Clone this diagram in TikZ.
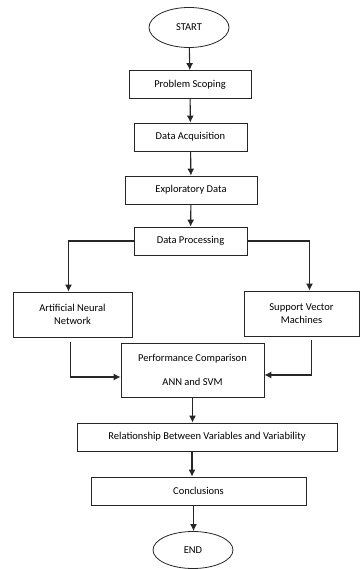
\documentclass[tikz,border=0pt]{standalone}
\usepackage{fontspec}
\setmainfont{Carlito}
\usepackage{tikz}
\usetikzlibrary{arrows.meta, positioning, shapes.geometric}

\tikzset{
  stepbox/.style={draw=black!85, line width=0.8pt, rectangle, align=center,
    minimum height=28pt, inner sep=2pt, font=\fontsize{10.5}{12.5}\selectfont},
  terminal/.style={draw=black!85, line width=0.8pt, ellipse, minimum width=80pt,
    minimum height=40pt, font=\fontsize{10.5}{12.5}\selectfont},
  flow/.style={draw=black!85, line width=1.1pt, -{Latex[length=7pt,width=7pt]}}
}

\begin{document}
\begin{tikzpicture}[x=1pt, y=-1pt]
        \useasboundingbox (0,0) rectangle (359,569);

        \node[terminal] (start) at (189,27.5) {START};
        \node[stepbox, minimum width=122pt] (scope) at (190,84.5) {Problem Scoping};
        \node[stepbox, minimum width=113pt] (acq) at (190.5,137) {Data Acquisition};
        \node[stepbox, minimum width=132pt] (expl) at (191,190) {Exploratory Data};
        \node[stepbox, minimum width=113pt] (proc) at (190.5,241) {Data Processing};
        \node[stepbox, minimum width=119pt, minimum height=45pt] (ann) at (72.5,314.5) {Artificial Neural\\Network};
        \node[stepbox, minimum width=115pt, minimum height=45pt] (svm) at (301.5,313.5) {Support Vector\\Machines};
        \node[stepbox, minimum width=143pt, minimum height=54pt] (comp) at (192.5,370) {Performance Comparison\\[12pt]ANN and SVM};
        \node[stepbox, minimum width=260pt] (rel) at (207,437) {Relationship Between Variables and Variability};
        \node[stepbox, minimum width=215pt] (concl) at (198.5,491) {Conclusions};
        \node[terminal, minimum height=37pt] (end) at (193,550) {END};

        \draw[flow] (start) -- (scope);
        \draw[flow] (scope) -- (acq);
        \draw[flow] (acq) -- (expl);
        \draw[flow] (expl) -- (proc);
        \draw[flow] (proc.west) -| ([xshift=-4pt]ann.north);
        \draw[flow] (proc.east) -| ([xshift=8pt]svm.north);
        \draw[flow, shorten <=5pt] ([xshift=-2pt]ann.south) |- ([yshift=-7pt]comp.west);
        \draw[flow, shorten <=4pt] ([xshift=10pt]svm.south) |- ([yshift=-5pt]comp.east);
        \draw[flow] (comp.south) -- (comp.south |- rel.north);
        \draw[flow] ([xshift=-15pt]rel.south) -- ([xshift=-15pt]rel.south |- concl.north);
        \draw[flow] ([xshift=-5pt]concl.south) -- ([xshift=-5pt]concl.south |- end.north);

\end{tikzpicture}
\end{document}
